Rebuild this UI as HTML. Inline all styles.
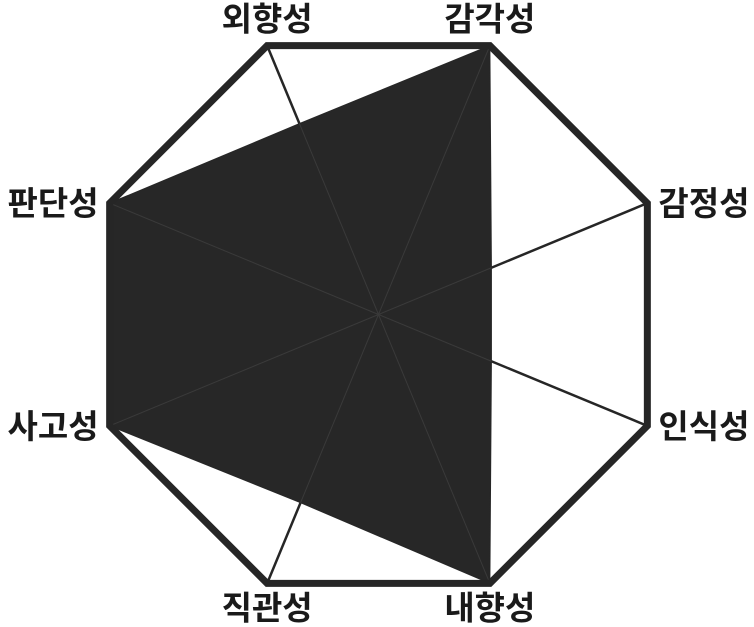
<!DOCTYPE html>
<html><head><meta charset="utf-8">
<style>
html,body{margin:0;padding:0;background:#fff;width:754px;height:627px;overflow:hidden}
svg{display:block}
text{font-family:"Liberation Sans","Noto Sans CJK KR","NanumGothic",sans-serif;font-weight:bold;font-size:33px;fill:#1a1a1a}
</style></head>
<body>
<svg id="chart" width="754" height="627"></svg>
<script>
const categories = ["감각성","감정성","인식성","내향성","직관성","사고성","판단성","외향성"];
const values = [1, 0.42, 0.42, 1, 0.7, 1, 1, 0.71];
const maxValue = 1;

const svg = document.getElementById('chart');
const NS = 'http://www.w3.org/2000/svg';
const cx = 378.5, cy = 314.5, R = 291;
function ang(i){ return (-67.5 + 45*i) * Math.PI/180; }
function pt(i, v){ const r = R * v / maxValue; return [cx + r*Math.cos(ang(i)), cy + r*Math.sin(ang(i))]; }
function mk(tag, attrs){ const e = document.createElementNS(NS, tag); for (const k in attrs) e.setAttribute(k, attrs[k]); svg.appendChild(e); return e; }

categories.forEach((c, i) => {
  const p = pt(i, maxValue);
  const l = mk('line', {x1: cx, y1: cy, x2: p[0], y2: p[1], stroke: '#262626', 'stroke-width': 2.5});
  
  
});

const dp = mk('polygon', {points: values.map((v, i) => pt(i, v).join(',')).join(' '), fill: '#272727', stroke: '#272727', 'stroke-width': 1});



categories.forEach((c, i) => {
  const p = pt(i, values[i]);
  const l = mk('line', {x1: cx, y1: cy, x2: p[0], y2: p[1], stroke: '#3a3a3a', 'stroke-width': 1});
  
  
});

const oct = mk('polygon', {points: categories.map((c, i) => pt(i, maxValue).join(',')).join(' '), fill: 'none', stroke: '#262626', 'stroke-width': 7, 'stroke-linejoin': 'miter'});



categories.forEach((c, i) => {
  const p = pt(i, maxValue);
  let x = p[0], y = p[1], anchor = 'middle';
  const cs = Math.cos(ang(i)), sn = Math.sin(ang(i));
  if (Math.abs(cs) > 0.7) { anchor = cs > 0 ? 'start' : 'end'; x += cs > 0 ? 11 : -11; y += 12; }
  else { y += sn < 0 ? -15 : 36; }
  const t = mk('text', {x: x, y: y, 'text-anchor': anchor});
  t.textContent = c;
  
  
});
</script>
</body></html>
